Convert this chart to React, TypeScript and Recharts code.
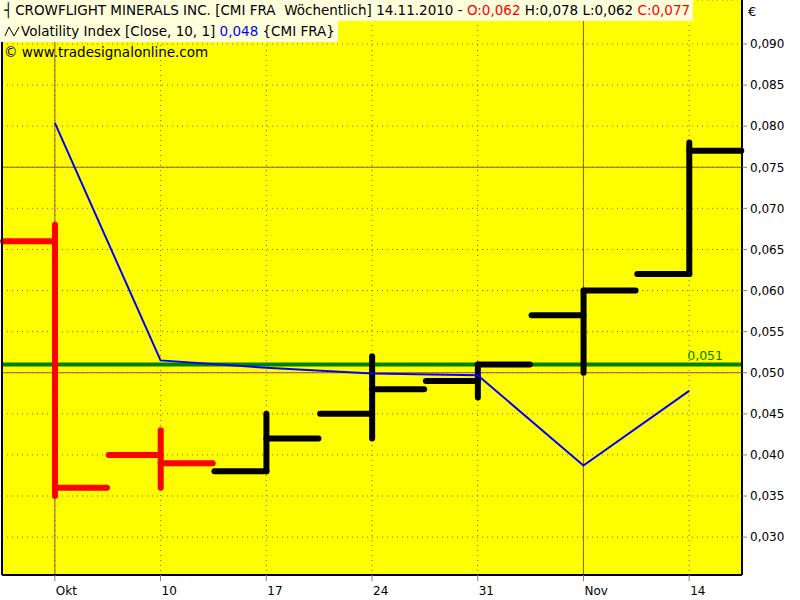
import React from "react";
import {
  ComposedChart,
  Bar,
  Line,
  XAxis,
  YAxis,
  CartesianGrid,
  ReferenceLine,
} from "recharts";

const weeks = ["Okt", "10", "17", "24", "31", "Nov", "14"];
const opens = [0.066, 0.04, 0.038, 0.045, 0.049, 0.057, 0.062];
const highs = [0.068, 0.043, 0.045, 0.052, 0.051, 0.06, 0.078];
const lows = [0.035, 0.036, 0.038, 0.042, 0.047, 0.05, 0.062];
const closes = [0.036, 0.039, 0.042, 0.048, 0.051, 0.06, 0.077];
const volatility = [0.0804, 0.0515, 0.0506, 0.0499, 0.0497, 0.0387, 0.0478];

const priceTicks = [0.03, 0.035, 0.04, 0.045, 0.05, 0.055, 0.06, 0.065, 0.07, 0.075, 0.08, 0.085, 0.09];
const monthStarts = ["Okt", "Nov"];
const levelLines = [0.075, 0.05];
const greenLevel = 0.051;

const data = weeks.map((week, i) => ({
  week,
  range: [lows[i], highs[i]],
  open: opens[i],
  high: highs[i],
  low: lows[i],
  close: closes[i],
  vol: volatility[i],
}));

const FONT = "'DejaVu Sans', Verdana, sans-serif";
const BROWN = "#A0522D";
const TICK_LEN = 52;

function fmt(v: number) {
  return v.toFixed(3).replace(".", ",");
}

function OhlcShape(props: any) {
  const { x, y, width, height, payload } = props;
  if (x == null || y == null) return null;
  const cx = x + width / 2;
  const top = Math.min(y, y + height);
  const bottom = Math.max(y, y + height);
  const span = payload.high - payload.low || 1;
  const py = (v: number) => top + ((payload.high - v) / span) * (bottom - top);
  const color = payload.close < payload.open ? "#FF0000" : "#000000";
  return (
    <g stroke={color} strokeWidth={6} strokeLinecap="round">
      <line x1={cx} x2={cx} y1={top} y2={bottom} />
      <line x1={cx - TICK_LEN} x2={cx} y1={py(payload.open)} y2={py(payload.open)} />
      <line x1={cx} x2={cx + TICK_LEN} y1={py(payload.close)} y2={py(payload.close)} />
    </g>
  );
}

function WeekTick(props: any) {
  const { x, payload } = props;
  return (
    <text x={x + 1} y={595} fontSize={12} fontFamily={FONT} fill="#000">
      {payload.value}
    </text>
  );
}

function GreenLabel(props: any) {
  const vb = props.viewBox || {};
  return (
    <text
      x={vb.x + vb.width - 19}
      y={vb.y - 5}
      textAnchor="end"
      fontSize={12.5}
      fontFamily={FONT}
      fill="#008000"
    >
      {fmt(greenLevel)}
    </text>
  );
}

const lineStyle: React.CSSProperties = {
  display: "block",
  width: "fit-content",
  fontFamily: FONT,
  fontSize: 13.5,
  lineHeight: "21px",
  height: 21,
  padding: "0 3px 0 3px",
  whiteSpace: "pre",
  color: "#000",
};

export default function App() {
  return (
    <div style={{ position: "absolute", left: 0, top: 0, width: 800, height: 600, background: "#fff" }}>
      <ComposedChart
        width={800}
        height={600}
        data={data}
        margin={{ top: 0, right: 0, bottom: 0, left: 1 }}
      >
        <CartesianGrid
          fill="#FFFF00"
          stroke={BROWN}
          strokeDasharray="1 4"
        />
        <XAxis
          dataKey="week"
          height={25}
          axisLine={{ stroke: "#000", strokeWidth: 2 }}
          tickLine={{ stroke: "#808080" }}
          tickSize={6}
          tick={<WeekTick />}
          interval={0}
        />
        <YAxis
          yAxisId="left"
          orientation="left"
          width={1}
          tick={false}
          tickLine={false}
          axisLine={{ stroke: "#000", strokeWidth: 2 }}
          domain={[0.02539, 0.09535]}
          allowDataOverflow
        />
        <YAxis
          orientation="right"
          width={58}
          domain={[0.02539, 0.09535]}
          allowDataOverflow
          ticks={priceTicks}
          interval={0}
          tickFormatter={fmt}
          tickSize={5}
          tickMargin={3}
          tickLine={{ stroke: "#808080" }}
          axisLine={{ stroke: "#000", strokeWidth: 2 }}
          tick={{ fill: "#000", fontSize: 12, fontFamily: FONT }}
        />
        {monthStarts.map((m) => (
          <ReferenceLine key={m} x={m} stroke={BROWN} strokeWidth={1} zIndex={150} />
        ))}
        {levelLines.map((v) => (
          <ReferenceLine key={v} y={v} stroke={BROWN} strokeWidth={1} zIndex={150} />
        ))}
        <ReferenceLine
          y={greenLevel}
          stroke="#008000"
          strokeWidth={4}
          label={<GreenLabel />}
          zIndex={200}
        />
        <Bar
          dataKey="range"
          barSize={10}
          shape={<OhlcShape />}
          isAnimationActive={false}
          zIndex={300}
        />
        <Line
          type="linear"
          dataKey="vol"
          stroke="#0000FF"
          strokeWidth={2}
          dot={false}
          isAnimationActive={false}
          zIndex={400}
        />
      </ComposedChart>

      <div style={{ position: "absolute", left: 1, top: 0 }}>
        <div style={{ ...lineStyle, background: "#FFFFDC" }}>
          <span style={{ marginRight: 3 }}>┤</span>
          CROWFLIGHT MINERALS INC. [CMI FRA  Wöchentlich] 14.11.2010 -{" "}
          <span style={{ color: "#FF0000" }}>O:0,062</span> H:0,078 L:0,062{" "}
          <span style={{ color: "#FF0000" }}>C:0,077</span>
        </div>
        <div style={{ ...lineStyle, background: "#FFFFDC" }}>
          <svg width={17} height={11} style={{ marginRight: 0, verticalAlign: "-1px" }}>
            <polyline points="1,10 5,1 10,10 15,1" fill="none" stroke="#000" strokeWidth={1} />
          </svg>
          Volatility Index [Close, 10, 1] <span style={{ color: "#0000FF" }}>0,048</span> {"{CMI FRA}"}
        </div>
        <div style={{ ...lineStyle }}>© www.tradesignalonline.com</div>
      </div>
      <div
        style={{ position: "absolute", left: 748, top: 4, fontFamily: FONT, fontSize: 13, color: "#000" }}
      >
        €
      </div>
    </div>
  );
}
